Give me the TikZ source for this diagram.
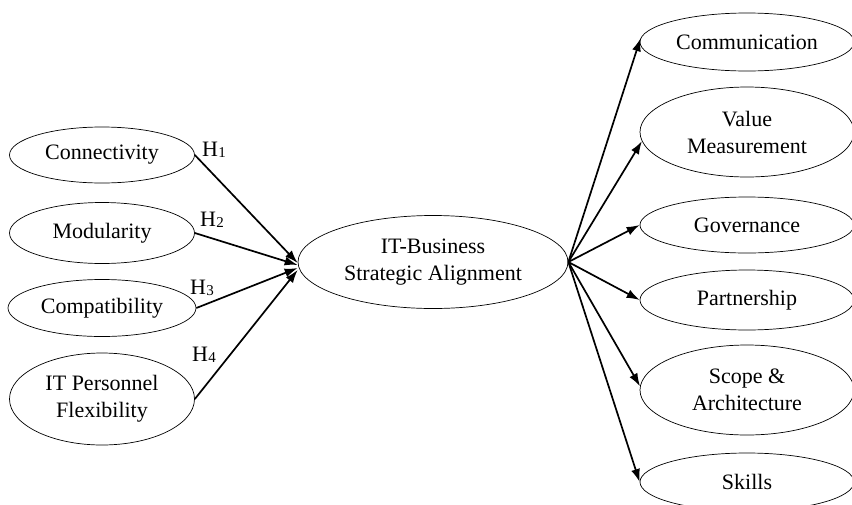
\documentclass[tikz,border=0pt]{standalone}
\usepackage{fontspec}
\setmainfont{Liberation Serif}
\usetikzlibrary{shapes.geometric,arrows.meta}
\begin{document}
\begin{tikzpicture}[x=1pt,y=-1pt,
  oval/.style={ellipse,draw,line width=0.7pt,inner sep=0pt,align=center,font=\fontsize{22}{27}\selectfont},
  lbl/.style={inner sep=0pt,font=\fontsize{22}{27}\selectfont},
  arr/.style={line width=1.7pt,-{Latex[length=13pt,width=9pt]}}
]
\useasboundingbox (0,0) rectangle (852,504);
\fill[white] (0,0) rectangle (852,504);
\clip (0,0) rectangle (852,504);
% left
\node[oval,minimum width=185pt,minimum height=56pt] (conn) at (102,155) {Connectivity};
\node[oval,minimum width=185pt,minimum height=61pt] (mod) at (102,233) {Modularity};
\node[oval,minimum width=188pt,minimum height=57pt] (comp) at (102,308) {Compatibility};
\node[oval,minimum width=185pt,minimum height=92pt] (itp) at (102,399) {IT Personnel\\Flexibility};
% centre
\node[oval,minimum width=270pt,minimum height=93pt] (ba) at (433,262) {IT-Business\\Strategic Alignment};
% right
\node[oval,minimum width=214pt,minimum height=58pt] (comm) at (747,42) {Communication};
\node[oval,minimum width=214pt,minimum height=90pt] (val) at (747,132) {Value\\Measurement};
\node[oval,minimum width=214pt,minimum height=56pt] (gov) at (747,225) {Governance};
\node[oval,minimum width=214pt,minimum height=60pt] (part) at (747,300) {Partnership};
\node[oval,minimum width=214pt,minimum height=90pt] (scope) at (747,390) {Scope \&\\Architecture};
\node[oval,minimum width=214pt,minimum height=58pt] (skills) at (747,482) {Skills};
% hypothesis labels
\newcommand{\hyp}[1]{H\kern0.3pt\raisebox{-1pt}{\fontsize{15}{15}\selectfont #1}}
\node[lbl] (h1) at (214,150) {\hyp{1}};
\node[lbl] (h2) at (212,220) {\hyp{2}};
\node[lbl] (h3) at (202,288) {\hyp{3}};
\node[lbl] (h4) at (204,355) {\hyp{4}};
% arrows in
\draw[arr] (conn.east) -- ([yshift=-1pt]ba.west);
\draw[arr] (mod.east) -- ([yshift=-3pt]ba.west);
\draw[arr] (comp.east) -- ([yshift=-6pt]ba.west);
\draw[arr] (itp.east) -- ([yshift=-8pt]ba.west);
% arrows out
\draw[arr] (ba.east) -- (comm.178);
\draw[arr] (ba.east) -- (val.185);
\draw[arr] (ba.east) -- (gov.west);
\draw[arr] (ba.east) -- (part.west);
\draw[arr] (ba.east) -- (scope.178);
\draw[arr] (ba.east) -- (skills.west);
\end{tikzpicture}
\end{document}
